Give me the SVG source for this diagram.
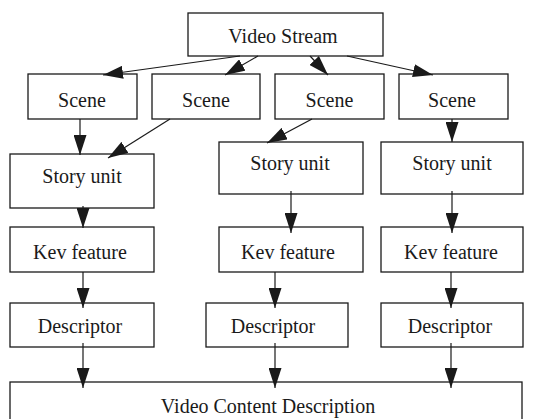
<svg xmlns="http://www.w3.org/2000/svg" width="541" height="419" viewBox="0 0 541 419">
  <style>
    .box { fill: #ffffff; stroke: #1a1a1a; stroke-width: 1.3; }
    .lbl { font-family: "Liberation Serif", "Times New Roman", serif; font-size: 20px; fill: #1a1a1a; text-anchor: middle; }
    .edge { stroke: #1a1a1a; stroke-width: 1.2; fill: none; marker-end: url(#arrow); }
  </style>
  <defs>
    <marker id="arrow" markerUnits="userSpaceOnUse" markerWidth="20" markerHeight="13" refX="20" refY="6.5" orient="auto">
      <path d="M0,0 L20,6.5 L0,13 z" fill="#1a1a1a"/>
    </marker>
  </defs>
  <rect width="541" height="419" fill="#ffffff"/>

  <g id="video-stream">
    <rect class="box" x="188" y="13" width="195" height="43"/>
    <text class="lbl" x="283" y="43">Video Stream</text>
  </g>

  <g id="scene-1">
    <rect class="box" x="28" y="74" width="109" height="45"/>
    <text class="lbl" x="82" y="107">Scene</text>
  </g>
  <g id="scene-2">
    <rect class="box" x="152" y="74" width="108" height="45"/>
    <text class="lbl" x="206" y="107">Scene</text>
  </g>
  <g id="scene-3">
    <rect class="box" x="275" y="74" width="109" height="45"/>
    <text class="lbl" x="329.5" y="107">Scene</text>
  </g>
  <g id="scene-4">
    <rect class="box" x="399" y="74" width="109" height="45"/>
    <text class="lbl" x="452" y="107">Scene</text>
  </g>

  <g id="story-unit-1">
    <rect class="box" x="10" y="154" width="144" height="54"/>
    <text class="lbl" x="82" y="183">Story unit</text>
  </g>
  <g id="story-unit-2">
    <rect class="box" x="219" y="142" width="144" height="52"/>
    <text class="lbl" x="290" y="170">Story unit</text>
  </g>
  <g id="story-unit-3">
    <rect class="box" x="381" y="142" width="142" height="52"/>
    <text class="lbl" x="452" y="170">Story unit</text>
  </g>

  <g id="key-feature-1">
    <rect class="box" x="10" y="227" width="144" height="45"/>
    <text class="lbl" x="80" y="259">Kev feature</text>
  </g>
  <g id="key-feature-2">
    <rect class="box" x="219" y="227" width="144" height="45"/>
    <text class="lbl" x="288" y="259">Kev feature</text>
  </g>
  <g id="key-feature-3">
    <rect class="box" x="381" y="227" width="142" height="45"/>
    <text class="lbl" x="451" y="259">Kev feature</text>
  </g>

  <g id="descriptor-1">
    <rect class="box" x="10" y="303" width="144" height="44"/>
    <text class="lbl" x="80" y="333">Descriptor</text>
  </g>
  <g id="descriptor-2">
    <rect class="box" x="206" y="303" width="142" height="44"/>
    <text class="lbl" x="273" y="333">Descriptor</text>
  </g>
  <g id="descriptor-3">
    <rect class="box" x="381" y="303" width="142" height="44"/>
    <text class="lbl" x="450" y="333">Descriptor</text>
  </g>

  <g id="video-content-description">
    <rect class="box" x="10" y="382" width="512" height="50"/>
    <text class="lbl" x="268" y="413">Video Content Description</text>
  </g>

  <g id="connectors">
    <line class="edge" x1="240" y1="56" x2="103" y2="75"/>
    <line class="edge" x1="258" y1="56" x2="225" y2="75"/>
    <line class="edge" x1="310" y1="56" x2="328" y2="75"/>
    <line class="edge" x1="347" y1="56" x2="433" y2="75"/>

    <line class="edge" x1="80" y1="119" x2="80" y2="155"/>
    <line class="edge" x1="170" y1="119" x2="108" y2="158"/>
    <line class="edge" x1="312" y1="119" x2="267" y2="143"/>
    <line class="edge" x1="452" y1="119" x2="452" y2="142"/>

    <line class="edge" x1="83" y1="206" x2="83" y2="228"/>
    <line class="edge" x1="291" y1="191" x2="291" y2="233"/>
    <line class="edge" x1="452" y1="191" x2="452" y2="233"/>

    <line class="edge" x1="83" y1="272" x2="83" y2="308"/>
    <line class="edge" x1="275" y1="272" x2="275" y2="308"/>
    <line class="edge" x1="451" y1="272" x2="451" y2="308"/>

    <line class="edge" x1="83" y1="343" x2="83" y2="388"/>
    <line class="edge" x1="275" y1="343" x2="275" y2="388"/>
    <line class="edge" x1="451" y1="343" x2="451" y2="388"/>
  </g>
</svg>
